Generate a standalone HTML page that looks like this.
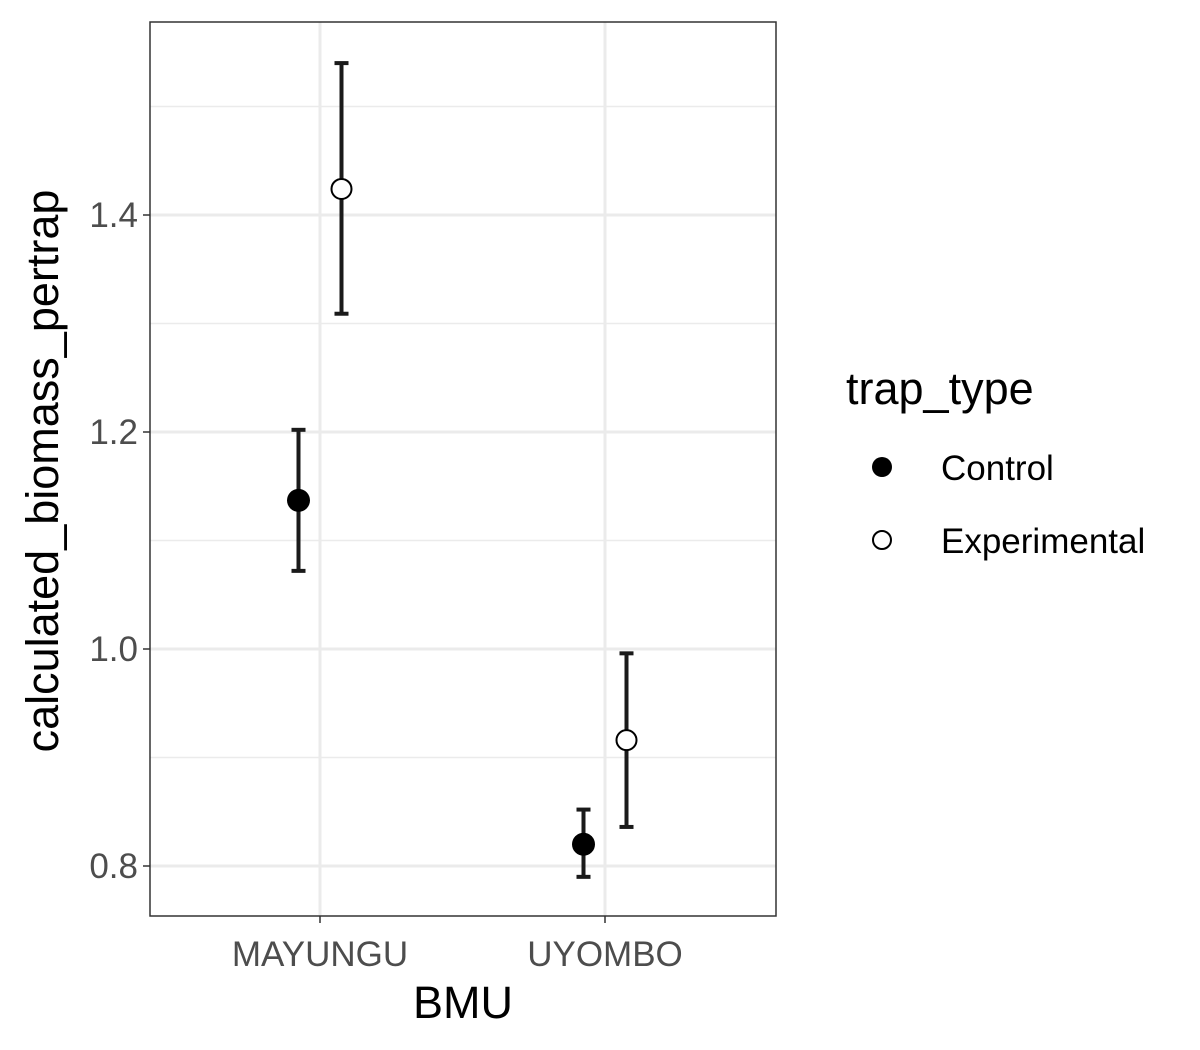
<!DOCTYPE html>
<html><head><meta charset="utf-8"><style>body{margin:0;background:#fff}svg{display:block}text{font-family:"Liberation Sans",sans-serif}</style></head>
<body>
<svg id="chart" width="1200" height="1050">
<rect width="1200" height="1050" fill="#fff"/>
<g id="grid"></g>
<g id="marks"></g>
<rect x="150" y="22" width="626" height="894" fill="none" stroke="#333" stroke-width="1.5"/>
<g id="axes"></g>
<text x="463" y="1018" font-size="45" text-anchor="middle">BMU</text>
<text transform="translate(58,471) rotate(-90)" font-size="45" text-anchor="middle">calculated_biomass_pertrap</text>
<g>
<text x="846" y="404" font-size="45">trap_type</text>
<circle cx="882" cy="467" r="10" fill="#000"/>
<text x="941" y="480" font-size="35">Control</text>
<circle cx="882" cy="540" r="9" fill="#fff" stroke="#000" stroke-width="2"/>
<text x="941" y="553" font-size="35">Experimental</text>
</g>
</svg>
<script>
const categories=["MAYUNGU","UYOMBO"];
const groups=["Control","Experimental"];
const controlMean=[1.137,0.820];
const controlLow=[1.072,0.790];
const controlHigh=[1.202,0.852];
const expMean=[1.424,0.916];
const expLow=[1.309,0.836];
const expHigh=[1.540,0.996];
const yTicks=[0.8,1.0,1.2,1.4];
const yMinor=[0.9,1.1,1.3,1.5];
const NS="http://www.w3.org/2000/svg";
const y=v=>866-(v-0.8)*1085;
const x=i=>320+i*285;
const dodge=g=>g===0?-21.5:21.5;
function mk(p,tag,attrs){const e=document.createElementNS(NS,tag);for(const k in attrs)e.setAttribute(k,attrs[k]);p.appendChild(e);return e;}
const grid=document.getElementById('grid'),marks=document.getElementById('marks'),axes=document.getElementById('axes');
yMinor.forEach(v=>{const l=mk(grid,'line',{x1:150,x2:776,y1:y(v),y2:y(v),stroke:'#ebebeb','stroke-width':1.5});

});
yTicks.forEach(v=>{const l=mk(grid,'line',{x1:150,x2:776,y1:y(v),y2:y(v),stroke:'#ebebeb','stroke-width':3});


const t=mk(axes,'line',{x1:143,x2:150,y1:y(v),y2:y(v),stroke:'#333','stroke-width':1.5});


const tx=mk(axes,'text',{x:138,y:y(v)+12,'font-size':35,fill:'#4d4d4d','text-anchor':'end'});tx.textContent=v.toFixed(1);

});
categories.forEach((c,i)=>{const l=mk(grid,'line',{x1:x(i),x2:x(i),y1:22,y2:916,stroke:'#ebebeb','stroke-width':3});


const t=mk(axes,'line',{x1:x(i),x2:x(i),y1:916,y2:923,stroke:'#333','stroke-width':1.5});


const tx=mk(axes,'text',{x:x(i),y:966,'font-size':35,fill:'#4d4d4d','text-anchor':'middle'});tx.textContent=c;

});
const series=[[controlMean,controlLow,controlHigh],[expMean,expLow,expHigh]];
series.forEach((s,g)=>{categories.forEach((c,i)=>{const cx=x(i)+dodge(g);
const eg=mk(marks,'g',{stroke:'#1a1a1a','stroke-width':4,fill:'none'});


mk(eg,'line',{x1:cx,x2:cx,y1:y(s[2][i]),y2:y(s[1][i])});
mk(eg,'line',{x1:cx-7,x2:cx+7,y1:y(s[2][i]),y2:y(s[2][i])});
mk(eg,'line',{x1:cx-7,x2:cx+7,y1:y(s[1][i]),y2:y(s[1][i])});
const p=g===0?mk(marks,'circle',{cx:cx,cy:y(s[0][i]),r:11.5,fill:'#000'}):mk(marks,'circle',{cx:cx,cy:y(s[0][i]),r:10,fill:'#fff',stroke:'#000','stroke-width':2});

});});
</script>
</body></html>
